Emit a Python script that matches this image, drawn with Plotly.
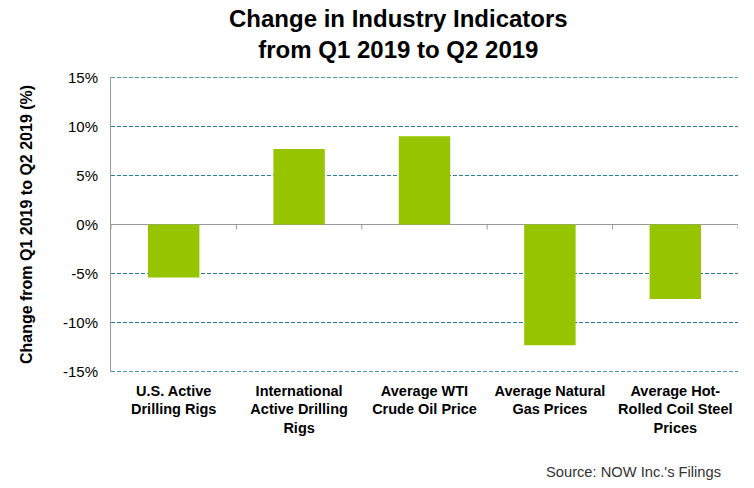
import plotly.graph_objects as go

categories = [
    "U.S. Active<br>Drilling Rigs",
    "International<br>Active Drilling<br>Rigs",
    "Average WTI<br>Crude Oil Price",
    "Average Natural<br>Gas Prices",
    "Average Hot-<br>Rolled Coil Steel<br>Prices",
]
changes = [-5.4, 7.7, 9.0, -12.3, -7.6]
y_ticks = [-15, -10, -5, 0, 5, 10, 15]
y_tick_labels = ["-15%", "-10%", "-5%", "0%", "5%", "10%", "15%"]

GRID_COLOR = "#2F7AA0"

fig = go.Figure()
fig.add_trace(go.Bar(
    x=list(range(len(categories))),
    y=changes,
    marker=dict(color="#96C400", line=dict(width=0)),
    width=0.41,
))

shapes = []
for i in range(len(categories) + 1):
    shapes.append(dict(type="line", xref="x", yref="y", x0=i - 0.5, x1=i - 0.5,
                       y0=0, y1=-0.5, line=dict(color="#999999", width=1)))
# edge gridlines (hidden by plotly at the plot boundary)
for yv in (y_ticks[0], y_ticks[-1]):
    shapes.append(dict(type="line", xref="paper", yref="y", x0=0, x1=1,
                       y0=yv, y1=yv, layer="below",
                       line=dict(color=GRID_COLOR, width=1, dash="4px,2px")))
fig.update_layout(shapes=shapes)

fig.update_layout(
    width=754, height=488,
    margin=dict(l=111, r=16, t=77, b=116),
    paper_bgcolor="white", plot_bgcolor="white",
    showlegend=False,
    font=dict(family="Liberation Sans, Arial, sans-serif", color="black"),
    xaxis=dict(
        range=[-0.5, len(categories) - 0.5],
        tickmode="array",
        tickvals=list(range(len(categories))),
        ticktext=["<b>" + c + "</b>" for c in categories],
        tickfont=dict(size=14.5, color="black"),
        showgrid=False, zeroline=False, showline=False,
        ticks="", ticklabelstandoff=8,
    ),
    yaxis=dict(
        range=[-15.03, 15.03],
        tickmode="array", tickvals=y_ticks, ticktext=y_tick_labels,
        tickfont=dict(size=15, color="black"),
        showgrid=True, gridcolor=GRID_COLOR, griddash="4px,2px", gridwidth=1,
        zeroline=True, zerolinecolor="#999999", zerolinewidth=1,
        showline=True, linecolor="#999999", linewidth=1,
        ticks="", ticklabelstandoff=9,
        title=dict(text="<b>Change from Q1 2019 to Q2 2019 (%)</b>",
                   font=dict(size=16, color="black"), standoff=26),
    ),
    annotations=[
        dict(
            text="<b>Change in Industry Indicators<br>from Q1 2019 to Q2 2019</b>",
            xref="paper", yref="paper", x=0.458, y=(372 - 33.5) / 295,
            xanchor="center", yanchor="middle", showarrow=False,
            font=dict(size=24, color="black"),
        ),
        dict(
            text="Source: NOW Inc.'s Filings", xref="paper", yref="paper",
            x=0.976, y=-0.339, xanchor="right", yanchor="middle", showarrow=False,
            font=dict(size=14.7, color="#333333"),
        ),
    ],
)

fig.write_html("out.html", config={"displayModeBar": False},
               post_script="document.body.style.margin='0';")
